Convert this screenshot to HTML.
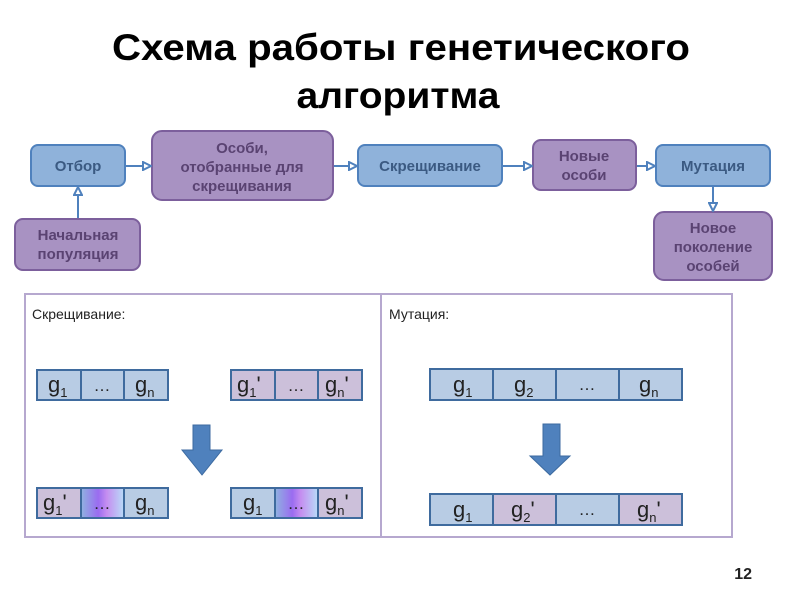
<!DOCTYPE html>
<html><head><meta charset="utf-8"><style>
html,body{margin:0;padding:0;background:#fff;}
svg{display:block;}
text{font-family:"Liberation Sans",sans-serif;}
</style></head><body>
<svg width="800" height="600" viewBox="0 0 800 600" xmlns="http://www.w3.org/2000/svg">
<defs>
<linearGradient id="gr" x1="0" x2="1" y1="0" y2="0">
<stop offset="0" stop-color="#8fb3e0"/><stop offset="0.4" stop-color="#9a6cf0"/><stop offset="0.6" stop-color="#c58ef0"/><stop offset="1" stop-color="#b8dcf8"/>
</linearGradient>
<marker id="ah" viewBox="0 0 10 10" refX="9" refY="5" markerWidth="5" markerHeight="5" orient="auto">
<path d="M1,1 L9,5 L1,9 Z" fill="#fff" stroke="#4f81bd" stroke-width="2"/>
</marker>
</defs>
<text x="401" y="60" font-size="37" font-weight="bold" text-anchor="middle" textLength="578" lengthAdjust="spacingAndGlyphs">Схема работы генетического</text>
<text x="398" y="108" font-size="37" font-weight="bold" text-anchor="middle" textLength="203" lengthAdjust="spacingAndGlyphs">алгоритма</text>

<g stroke-width="2" font-weight="bold" font-size="15" text-anchor="middle">
<rect x="31" y="145" width="94" height="41" rx="7" fill="#8fb2da" stroke="#4f81bd"/>
<text x="78" y="171" fill="#3b5a82" stroke="none">Отбор</text>
<rect x="152" y="131" width="181" height="69" rx="10" fill="#a892c2" stroke="#7c5f9c"/>
<text x="242" y="153" fill="#5a4372" stroke="none">Особи,</text>
<text x="242" y="172" fill="#5a4372" stroke="none">отобранные для</text>
<text x="242" y="191" fill="#5a4372" stroke="none">скрещивания</text>
<rect x="358" y="145" width="144" height="41" rx="7" fill="#8fb2da" stroke="#4f81bd"/>
<text x="430" y="171" fill="#3b5a82" stroke="none">Скрещивание</text>
<rect x="533" y="140" width="103" height="50" rx="8" fill="#a892c2" stroke="#7c5f9c"/>
<text x="584" y="161" fill="#5a4372" stroke="none">Новые</text>
<text x="584" y="180" fill="#5a4372" stroke="none">особи</text>
<rect x="656" y="145" width="114" height="41" rx="7" fill="#8fb2da" stroke="#4f81bd"/>
<text x="713" y="171" fill="#3b5a82" stroke="none">Мутация</text>
<rect x="654" y="212" width="118" height="68" rx="10" fill="#a892c2" stroke="#7c5f9c"/>
<text x="713" y="233" fill="#5a4372" stroke="none">Новое</text>
<text x="713" y="252" fill="#5a4372" stroke="none">поколение</text>
<text x="713" y="271" fill="#5a4372" stroke="none">особей</text>
<rect x="15" y="219" width="125" height="51" rx="8" fill="#a892c2" stroke="#7c5f9c"/>
<text x="78" y="240" fill="#5a4372" stroke="none">Начальная</text>
<text x="78" y="259" fill="#5a4372" stroke="none">популяция</text>
</g>
<g stroke="#4f81bd" stroke-width="2" fill="none" marker-end="url(#ah)">
<line x1="126" y1="166" x2="151" y2="166"/>
<line x1="334" y1="166" x2="357" y2="166"/>
<line x1="503" y1="166" x2="532" y2="166"/>
<line x1="637" y1="166" x2="655" y2="166"/>
<line x1="713" y1="187" x2="713" y2="211"/>
<line x1="78" y1="218" x2="78" y2="187"/>
</g>

<rect x="25" y="294" width="707" height="243" fill="#fff" stroke="#b6a8cf" stroke-width="2"/>
<line x1="381" y1="294" x2="381" y2="537" stroke="#b6a8cf" stroke-width="2"/>
<text x="32" y="319" font-size="14" fill="#222">Скрещивание:</text>
<text x="389" y="319" font-size="14" fill="#222">Мутация:</text>

<g stroke="#3f6b9e" stroke-width="2">
<rect x="37" y="370" width="44" height="30" fill="#b8cce4"/><rect x="81" y="370" width="43" height="30" fill="#b8cce4"/><rect x="124" y="370" width="44" height="30" fill="#b8cce4"/>
<rect x="231" y="370" width="44" height="30" fill="#ccc0da"/><rect x="275" y="370" width="43" height="30" fill="#ccc0da"/><rect x="318" y="370" width="44" height="30" fill="#ccc0da"/>
<rect x="37" y="488" width="44" height="30" fill="#ccc0da"/><rect x="81" y="488" width="43" height="30" fill="url(#gr)"/><rect x="124" y="488" width="44" height="30" fill="#b8cce4"/>
<rect x="231" y="488" width="44" height="30" fill="#b8cce4"/><rect x="275" y="488" width="43" height="30" fill="url(#gr)"/><rect x="318" y="488" width="44" height="30" fill="#ccc0da"/>
<rect x="430" y="369" width="63" height="31" fill="#b8cce4"/><rect x="493" y="369" width="63" height="31" fill="#b8cce4"/><rect x="556" y="369" width="63" height="31" fill="#b8cce4"/><rect x="619" y="369" width="63" height="31" fill="#b8cce4"/>
<rect x="430" y="494" width="63" height="31" fill="#b8cce4"/><rect x="493" y="494" width="63" height="31" fill="#ccc0da"/><rect x="556" y="494" width="63" height="31" fill="#b8cce4"/><rect x="619" y="494" width="63" height="31" fill="#ccc0da"/>
</g>
<g font-size="22" fill="#222" stroke="none">
<text x="48" y="392">g<tspan font-size="13" dy="5">1</tspan></text>
<text x="102" y="391" text-anchor="middle" font-size="17">…</text>
<text x="135" y="392">g<tspan font-size="13" dy="5">n</tspan></text>
<text x="237" y="392">g<tspan font-size="13" dy="5">1</tspan><tspan dy="-5">'</tspan></text>
<text x="296" y="391" text-anchor="middle" font-size="17">…</text>
<text x="325" y="392">g<tspan font-size="13" dy="5">n</tspan><tspan dy="-5">'</tspan></text>
<text x="43" y="510">g<tspan font-size="13" dy="5">1</tspan><tspan dy="-5">'</tspan></text>
<text x="102" y="509" text-anchor="middle" font-size="17">…</text>
<text x="135" y="510">g<tspan font-size="13" dy="5">n</tspan></text>
<text x="243" y="510">g<tspan font-size="13" dy="5">1</tspan></text>
<text x="296" y="509" text-anchor="middle" font-size="17">…</text>
<text x="325" y="510">g<tspan font-size="13" dy="5">n</tspan><tspan dy="-5">'</tspan></text>
<text x="453" y="392">g<tspan font-size="13" dy="5">1</tspan></text>
<text x="514" y="392">g<tspan font-size="13" dy="5">2</tspan></text>
<text x="587" y="390" text-anchor="middle" font-size="17">…</text>
<text x="639" y="392">g<tspan font-size="13" dy="5">n</tspan></text>
<text x="453" y="517">g<tspan font-size="13" dy="5">1</tspan></text>
<text x="511" y="517">g<tspan font-size="13" dy="5">2</tspan><tspan dy="-5">'</tspan></text>
<text x="587" y="515" text-anchor="middle" font-size="17">…</text>
<text x="637" y="517">g<tspan font-size="13" dy="5">n</tspan><tspan dy="-5">'</tspan></text>
</g>
<path d="M193,425 L210,425 L210,450 L222,450 L202,475 L182,450 L193,450 Z" fill="#4f81bd" stroke="#3c6aa0" stroke-width="1"/>
<path d="M543,424 L560,424 L560,456 L570,456 L550,475 L530,456 L543,456 Z" fill="#4f81bd" stroke="#3c6aa0" stroke-width="1"/>
<text x="752" y="579" font-size="16" font-weight="bold" text-anchor="end" fill="#222">12</text>
</svg>
</body></html>
